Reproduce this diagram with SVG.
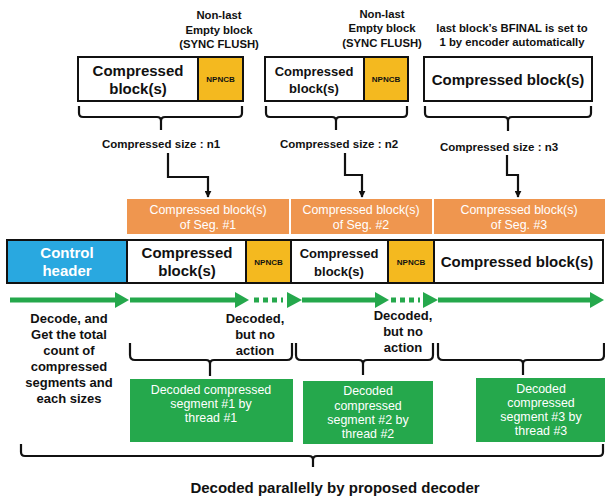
<svg xmlns="http://www.w3.org/2000/svg" width="605" height="500" viewBox="0 0 605 500">
  <defs>
    <style>
      text { font-family: "Liberation Sans", Arial, sans-serif; font-weight: bold; text-anchor: middle; fill: #111; }
      .blk { fill: #fff; stroke: #111; stroke-width: 2; }
      .np { fill: #f4b91f; stroke: #111; stroke-width: 2; }
      .hdr { fill: #29a8e0; stroke: #111; stroke-width: 2; }
      .seg { fill: #ef964f; }
      .dec { fill: #25a84c; }
      .wt { fill: #fff; font-weight: normal; font-size: 12.4px; }
      .wb { fill: #fff; }
      .sz { font-size: 11.5px; }
      .brace { fill: none; stroke: #111; stroke-width: 2.2; stroke-linejoin: round; }
      .elbow { fill: none; stroke: #111; stroke-width: 2.2; }
      .flow { stroke: #25a84c; stroke-width: 5; fill: none; }
      .dots { stroke: #25a84c; stroke-width: 5; stroke-dasharray: 5 4; fill: none; }
      .head { fill: #25a84c; }
    </style>
    <marker id="tip" viewBox="0 0 10 10" refX="9" refY="5" markerWidth="7" markerHeight="7" markerUnits="userSpaceOnUse" orient="auto">
      <path d="M0,0 L10,5 L0,10 z" fill="#111"/>
    </marker>
  </defs>

  <!-- Encoder output: three groups of blocks -->
  <g id="enc-seg1">
    <text font-size="11.3" x="219" y="19">Non-last</text>
    <text font-size="11.3" x="219" y="34">Empty block</text>
    <text font-size="11.3" x="219" y="48">(SYNC FLUSH)</text>
    <rect class="blk" x="78" y="57" width="120" height="44"/>
    <rect class="np" x="198" y="57" width="45" height="44"/>
    <text font-size="15" x="138" y="76">Compressed</text>
    <text font-size="15" x="138" y="94">block(s)</text>
    <text font-size="8" x="220.5" y="82">NPNCB</text>
  </g>
  <g id="enc-seg2">
    <text font-size="11.3" x="382" y="18">Non-last</text>
    <text font-size="11.3" x="382" y="32">Empty block</text>
    <text font-size="11.3" x="382" y="47">(SYNC FLUSH)</text>
    <rect class="blk" x="265" y="57" width="99" height="44"/>
    <rect class="np" x="364" y="57" width="44" height="44"/>
    <text font-size="13" x="314" y="76">Compressed</text>
    <text font-size="13" x="314" y="93">block(s)</text>
    <text font-size="8" x="386" y="82">NPNCB</text>
  </g>
  <g id="enc-seg3">
    <text font-size="11.3" x="512" y="32">last block’s BFINAL is set to</text>
    <text font-size="11.3" x="512" y="46">1 by encoder automatically</text>
    <rect class="blk" x="424" y="57" width="168" height="44"/>
    <text font-size="15" x="508" y="85">Compressed block(s)</text>
  </g>

  <!-- Size labels -->
  <g id="size1"><text class="sz" x="161" y="148">Compressed size : n1</text></g>
  <g id="size2"><text class="sz" x="339" y="148">Compressed size : n2</text></g>
  <g id="size3"><text class="sz" x="499" y="151">Compressed size : n3</text></g>

  <!-- Segment headers -->
  <g id="seg1">
    <rect class="seg" x="127" y="199" width="162" height="35"/>
    <text class="wt" x="208" y="214">Compressed block(s)</text>
    <text class="wt" x="208" y="229">of Seg. #1</text>
  </g>
  <g id="seg2">
    <rect class="seg" x="291" y="199" width="141" height="35"/>
    <text class="wt" x="361" y="214">Compressed block(s)</text>
    <text class="wt" x="361" y="229">of Seg. #2</text>
  </g>
  <g id="seg3">
    <rect class="seg" x="434" y="199" width="171" height="35"/>
    <text class="wt" x="519" y="214">Compressed block(s)</text>
    <text class="wt" x="519" y="229">of Seg. #3</text>
  </g>

  <!-- Concatenated stream -->
  <g id="stream">
    <rect class="hdr" x="7" y="240" width="120" height="43"/>
    <text class="wb" font-size="15" x="67" y="258">Control</text>
    <text class="wb" font-size="15" x="67" y="276">header</text>
    <rect class="blk" x="127" y="240" width="119" height="43"/>
    <text font-size="15" x="187" y="258">Compressed</text>
    <text font-size="15" x="187" y="276">block(s)</text>
    <rect class="np" x="246" y="240" width="45" height="43"/>
    <text font-size="8" x="268.5" y="265">NPNCB</text>
    <rect class="blk" x="291" y="240" width="97" height="43"/>
    <text font-size="13" x="339" y="258">Compressed</text>
    <text font-size="13" x="339" y="276">block(s)</text>
    <rect class="np" x="388" y="240" width="46" height="43"/>
    <text font-size="8" x="411" y="265">NPNCB</text>
    <rect class="blk" x="434" y="240" width="169" height="43"/>
    <text font-size="15" x="517" y="267">Compressed block(s)</text>
  </g>

  <!-- Decode timeline -->
  <g id="timeline">
    <line class="flow" x1="10" y1="300" x2="116" y2="300"/>
    <path class="head" d="M115,292 L129,300 L115,308 z"/>
    <line class="flow" x1="130" y1="300" x2="236" y2="300"/>
    <path class="head" d="M235,292 L249,300 L235,308 z"/>
    <line class="dots" x1="254" y1="300" x2="283" y2="300"/>
    <path class="head" d="M287,292 L302,300 L287,308 z"/>
    <line class="flow" x1="302" y1="300" x2="376" y2="300"/>
    <path class="head" d="M375,292 L389,300 L375,308 z"/>
    <line class="dots" x1="391" y1="300" x2="420" y2="300"/>
    <path class="head" d="M423,292 L438,300 L423,308 z"/>
    <line class="flow" x1="438" y1="300" x2="591" y2="300"/>
    <path class="head" d="M590,292 L604,300 L590,308 z"/>
  </g>

  <g id="note-header">
    <text font-size="13" x="69" y="323">Decode, and</text>
    <text font-size="13" x="69" y="339">Get the total</text>
    <text font-size="13" x="69" y="355">count of</text>
    <text font-size="13" x="69" y="371">compressed</text>
    <text font-size="13" x="69" y="387">segments and</text>
    <text font-size="13" x="69" y="403">each sizes</text>
  </g>
  <g id="note-flush1">
    <text font-size="13" x="255" y="323">Decoded,</text>
    <text font-size="13" x="255" y="339">but no</text>
    <text font-size="13" x="255" y="355">action</text>
  </g>
  <g id="note-flush2">
    <text font-size="13" x="403" y="320">Decoded,</text>
    <text font-size="13" x="403" y="336">but no</text>
    <text font-size="13" x="403" y="352">action</text>
  </g>

  <!-- Per-thread results -->
  <g id="thread1">
    <rect class="dec" x="130" y="379" width="163" height="63"/>
    <text class="wt" x="211" y="394">Decoded compressed</text>
    <text class="wt" x="211" y="408">segment #1 by</text>
    <text class="wt" x="211" y="422">thread  #1</text>
  </g>
  <g id="thread2">
    <rect class="dec" x="303" y="381" width="130" height="63"/>
    <text class="wt" x="368" y="395">Decoded</text>
    <text class="wt" x="368" y="410">compressed</text>
    <text class="wt" x="368" y="424">segment  #2 by</text>
    <text class="wt" x="368" y="438">thread #2</text>
  </g>
  <g id="thread3">
    <rect class="dec" x="476" y="378" width="129" height="64"/>
    <text class="wt" x="541" y="393">Decoded</text>
    <text class="wt" x="541" y="407">compressed</text>
    <text class="wt" x="541" y="421">segment  #3 by</text>
    <text class="wt" x="541" y="435">thread #3</text>
  </g>

  <g id="summary">
    <text font-size="15" x="335" y="493">Decoded parallelly by proposed decoder</text>
  </g>

  <!-- Braces and elbow connectors -->
  <g id="connectors">
    <path class="brace" d="M79,106 L79,113 Q79,117 83,117 L157,117 Q161,117 161,121 L161,130 M161,121 Q161,117 165,117 L238,117 Q242,117 242,113 L242,106"/>
    <path class="brace" d="M266,106 L266,113 Q266,117 270,117 L332,117 Q336,117 336,121 L336,130 M336,121 Q336,117 340,117 L403,117 Q407,117 407,113 L407,106"/>
    <path class="brace" d="M425,106 L425,113 Q425,117 429,117 L504,117 Q508,117 508,121 L508,131 M508,121 Q508,117 512,117 L587,117 Q591,117 591,113 L591,106"/>

    <path class="elbow" d="M168,153 L168,177 L208,177 L208,197" marker-end="url(#tip)"/>
    <path class="elbow" d="M345,153 L345,175 L362,175 L362,197" marker-end="url(#tip)"/>
    <path class="elbow" d="M507,155 L507,175 L518,175 L518,197" marker-end="url(#tip)"/>

    <path class="brace" d="M130,343 L130,355 Q130,360 135,360 L206,360 Q210,360 210,364 L210,376 M210,364 Q210,360 214,360 L287,360 Q292,360 292,355 L292,343"/>
    <path class="brace" d="M296,343 L296,355 Q296,360 301,360 L359,360 Q363,360 363,364 L363,375 M363,364 Q363,360 367,360 L428,360 Q433,360 433,355 L433,343"/>
    <path class="brace" d="M438,343 L438,355 Q438,360 443,360 L519,360 Q523,360 523,364 L523,375 M523,364 Q523,360 527,360 L599,360 Q604,360 604,355 L604,343"/>

    <path class="brace" d="M21,444 L21,452 Q21,456 25,456 L309,456 Q313,456 313,460 L313,467 M313,460 Q313,456 317,456 L599,456 Q603,456 603,452 L603,444"/>
  </g>
</svg>
